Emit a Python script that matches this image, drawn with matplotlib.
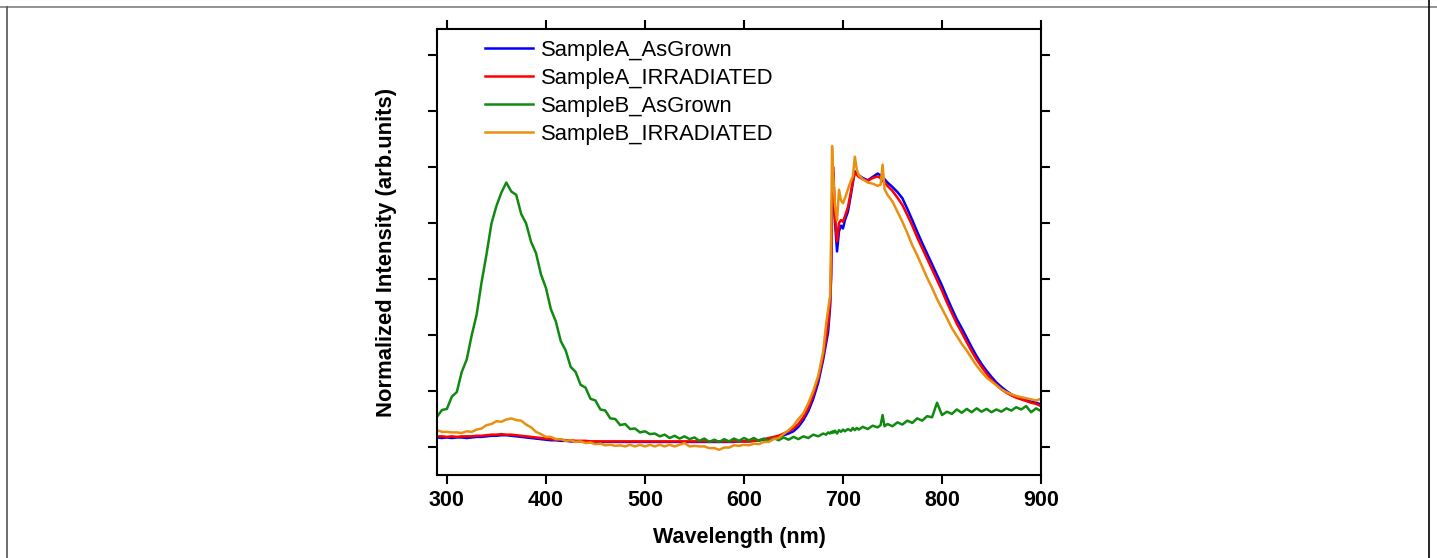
import matplotlib
matplotlib.use("Agg")
import matplotlib.pyplot as plt
from matplotlib.lines import Line2D

plt.rcParams['font.family'] = ['Liberation Sans', 'DejaVu Sans']

wavelength = [
    290, 295, 300, 305, 310, 315, 320, 325, 330, 335,
    340, 345, 350, 355, 360, 365, 370, 375, 380, 385,
    390, 395, 400, 405, 410, 415, 420, 425, 430, 435,
    440, 445, 450, 455, 460, 465, 470, 475, 480, 485,
    490, 495, 500, 505, 510, 515, 520, 525, 530, 535,
    540, 545, 550, 555, 560, 565, 570, 575, 580, 585,
    590, 595, 600, 605, 610, 615, 620, 625, 630, 635,
    640, 645, 650, 655, 660, 665, 670, 675, 680,
    683, 685, 687, 688, 689, 690, 691, 692, 694, 696,
    698, 700, 702, 705, 708, 710, 712, 714, 716, 720,
    725, 730, 735, 738, 740, 742,
    745, 750, 755, 760, 765, 770, 775, 780, 785, 790,
    795, 800, 805, 810, 815, 820, 825, 830, 835, 840,
    845, 850, 855, 860, 865, 870, 875, 880, 885, 890,
    895, 900,
]

sampleA_asgrown = [
    0.17, 0.16, 0.17, 0.16, 0.17, 0.17, 0.16, 0.17, 0.18, 0.18,
    0.19, 0.20, 0.20, 0.21, 0.21, 0.20, 0.19, 0.18, 0.17, 0.16,
    0.15, 0.14, 0.13, 0.12, 0.12, 0.11, 0.11, 0.10, 0.10, 0.10,
    0.10, 0.09, 0.09, 0.09, 0.09, 0.09, 0.09, 0.09, 0.09, 0.09,
    0.09, 0.09, 0.09, 0.09, 0.09, 0.09, 0.09, 0.09, 0.09, 0.09,
    0.09, 0.09, 0.09, 0.09, 0.09, 0.09, 0.09, 0.09, 0.09, 0.09,
    0.09, 0.10, 0.10, 0.10, 0.11, 0.12, 0.13, 0.14, 0.16, 0.18,
    0.21, 0.24, 0.28, 0.36, 0.48, 0.64, 0.86, 1.15, 1.56,
    1.85, 2.05, 2.50, 3.00, 4.30, 4.90, 4.50, 4.00, 3.49, 3.85,
    3.95, 3.90, 4.05, 4.20, 4.50, 4.72, 4.92, 4.88, 4.85, 4.80,
    4.76, 4.82, 4.88, 4.85, 4.80, 4.78,
    4.72, 4.64, 4.55, 4.44, 4.25, 4.05, 3.84, 3.64, 3.45, 3.26,
    3.07, 2.88, 2.67, 2.47, 2.28, 2.12, 1.95, 1.78, 1.62, 1.48,
    1.36, 1.25, 1.15, 1.07, 1.00, 0.94, 0.90, 0.87, 0.84, 0.81,
    0.79, 0.76,
]

sampleA_irradiated = [
    0.19, 0.19, 0.18, 0.19, 0.18, 0.19, 0.19, 0.19, 0.20, 0.20,
    0.21, 0.22, 0.22, 0.23, 0.22, 0.22, 0.21, 0.20, 0.19, 0.18,
    0.17, 0.16, 0.15, 0.14, 0.13, 0.13, 0.12, 0.12, 0.11, 0.11,
    0.11, 0.10, 0.10, 0.10, 0.10, 0.10, 0.10, 0.10, 0.10, 0.10,
    0.10, 0.10, 0.10, 0.10, 0.10, 0.10, 0.10, 0.10, 0.10, 0.10,
    0.10, 0.10, 0.10, 0.10, 0.10, 0.10, 0.10, 0.10, 0.10, 0.10,
    0.10, 0.10, 0.10, 0.10, 0.11, 0.12, 0.14, 0.16, 0.18, 0.20,
    0.24, 0.28, 0.33, 0.41, 0.53, 0.70, 0.93, 1.22, 1.62,
    1.95, 2.20, 2.60, 3.10, 4.40, 5.00, 4.60, 4.10, 3.67, 4.00,
    4.05, 4.02, 4.12, 4.28, 4.55, 4.75, 4.90, 4.86, 4.82, 4.78,
    4.75, 4.80, 4.83, 4.80, 4.75, 4.72,
    4.66, 4.57, 4.45, 4.32, 4.14, 3.95, 3.74, 3.55, 3.36, 3.17,
    2.98, 2.79, 2.58, 2.39, 2.20, 2.04, 1.87, 1.71, 1.56, 1.43,
    1.31, 1.20, 1.11, 1.03, 0.97, 0.92, 0.88, 0.85, 0.82, 0.79,
    0.77, 0.73,
]

sampleB_asgrown = [
    0.54, 0.66, 0.68, 0.90, 0.98, 1.34, 1.56, 1.99, 2.36, 2.94,
    3.44, 3.99, 4.30, 4.54, 4.72, 4.56, 4.50, 4.16, 3.99, 3.66,
    3.46, 3.08, 2.84, 2.46, 2.24, 1.89, 1.72, 1.43, 1.34, 1.11,
    1.06, 0.86, 0.83, 0.67, 0.65, 0.51, 0.50, 0.39, 0.41, 0.32,
    0.33, 0.26, 0.28, 0.23, 0.24, 0.19, 0.22, 0.16, 0.20, 0.15,
    0.19, 0.14, 0.17, 0.11, 0.15, 0.09, 0.13, 0.09, 0.14, 0.10,
    0.15, 0.11, 0.16, 0.12, 0.16, 0.11, 0.15, 0.11, 0.16, 0.12,
    0.17, 0.13, 0.18, 0.14, 0.19, 0.16, 0.22, 0.19, 0.24,
    0.22, 0.26, 0.24, 0.27, 0.25, 0.28, 0.26, 0.29, 0.24, 0.30,
    0.27, 0.31, 0.28, 0.32, 0.29, 0.34, 0.30, 0.34, 0.31, 0.36,
    0.32, 0.38, 0.35, 0.39, 0.57, 0.37,
    0.41, 0.37, 0.44, 0.40, 0.47, 0.43, 0.51, 0.47, 0.55, 0.53,
    0.79, 0.57, 0.63, 0.59, 0.67, 0.61, 0.68, 0.62, 0.69, 0.63,
    0.68, 0.62, 0.67, 0.63, 0.69, 0.65, 0.71, 0.67, 0.73, 0.62,
    0.69, 0.64,
]

sampleB_irradiated = [
    0.30, 0.27, 0.27, 0.26, 0.26, 0.25, 0.28, 0.27, 0.31, 0.33,
    0.39, 0.41, 0.46, 0.45, 0.49, 0.51, 0.48, 0.47, 0.40, 0.35,
    0.27, 0.23, 0.18, 0.18, 0.14, 0.14, 0.11, 0.12, 0.09, 0.10,
    0.07, 0.08, 0.05, 0.06, 0.03, 0.04, 0.02, 0.03, 0.01, 0.04,
    0.01, 0.04, 0.01, 0.04, 0.01, 0.04, 0.01, 0.04, 0.01, 0.04,
    0.07, 0.01, 0.02, 0.01, 0.01, -0.02, -0.02, -0.05, -0.01, -0.01,
    0.03, 0.02, 0.04, 0.03, 0.06, 0.05, 0.09, 0.09, 0.14, 0.16,
    0.23, 0.30, 0.38, 0.50, 0.60, 0.78, 1.00, 1.27, 1.70,
    2.20, 2.45, 2.70, 3.70, 5.37, 4.90, 4.60, 4.30, 4.05, 4.59,
    4.40, 4.35, 4.44, 4.60, 4.75, 4.83, 5.18, 4.95, 4.85, 4.78,
    4.72, 4.70, 4.66, 4.68, 5.04, 4.60,
    4.50, 4.38, 4.20, 4.02, 3.82, 3.60, 3.42, 3.22, 3.02, 2.84,
    2.64, 2.47, 2.30, 2.12, 1.98, 1.84, 1.72, 1.58, 1.45, 1.34,
    1.24, 1.17, 1.10, 1.03, 0.98, 0.94, 0.91, 0.89, 0.87, 0.85,
    0.83, 0.86,
]

series_labels = ['SampleA_AsGrown', 'SampleA_IRRADIATED',
                 'SampleB_AsGrown', 'SampleB_IRRADIATED']
series_colors = ['#0000FF', '#FF0000', '#108A10', '#E8900F']
x_ticks = [300, 400, 500, 600, 700, 800, 900]
y_ticks = [0, 1, 2, 3, 4, 5, 6, 7]

fig = plt.figure(figsize=(14.37, 5.58), dpi=100)
ax = fig.add_axes([437/1437, 1 - 475/558, (1041-437)/1437, (475-29)/558])

for vals, lab, col in zip(
        [sampleA_asgrown, sampleA_irradiated, sampleB_asgrown, sampleB_irradiated],
        series_labels, series_colors):
    ax.plot(wavelength, vals, color=col, lw=1.8, label=lab)

ax.set_xlim(290, 900)
ax.set_ylim(-0.5, 7.46)
ax.set_xticks(x_ticks)
ax.set_yticks(y_ticks)
ax.set_yticklabels([])
ax.tick_params(axis='both', direction='out', length=6.5, width=1.5,
               top=True, right=True, labelsize=15.5, pad=4)
for lbl in ax.get_xticklabels():
    lbl.set_fontweight('bold')
for s in ax.spines.values():
    s.set_linewidth(1.5)

ax.set_xlabel('Wavelength (nm)', fontsize=15.5, fontweight='bold', labelpad=12)
ax.set_ylabel('Normalized Intensity (arb.units)', fontsize=15.8, fontweight='bold', labelpad=18)

leg = ax.legend(loc='upper left', bbox_to_anchor=(48/604, 0.976), frameon=False,
                fontsize=15.8, handlelength=2.2, handletextpad=0.37,
                labelspacing=0.32, borderpad=0, borderaxespad=0)

# outer frame lines
fig.add_artist(Line2D([0, 1], [1 - 7/558, 1 - 7/558], transform=fig.transFigure,
                      color='#808080', lw=1.2))
fig.add_artist(Line2D([7/1437, 7/1437], [0, 1 - 7/558], transform=fig.transFigure,
                      color='#555555', lw=1.2))
fig.add_artist(Line2D([1429/1437, 1429/1437], [0, 1], transform=fig.transFigure,
                      color='#000000', lw=1.2))

fig.savefig('out.png', dpi=100)
